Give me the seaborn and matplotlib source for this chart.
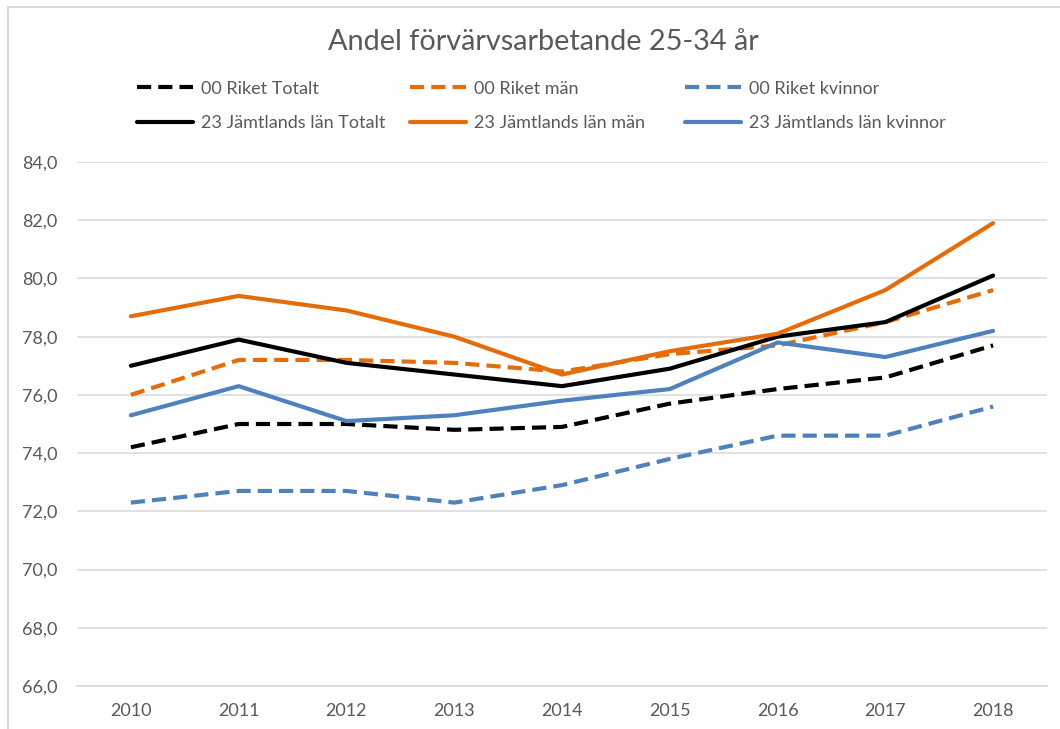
import matplotlib
matplotlib.use("Agg")
import matplotlib.pyplot as plt
import seaborn as sns
import pandas as pd
from matplotlib.lines import Line2D

years = [2010, 2011, 2012, 2013, 2014, 2015, 2016, 2017, 2018]
riket_totalt = [74.2, 75.0, 75.0, 74.8, 74.9, 75.7, 76.2, 76.6, 77.7]
riket_man = [76.0, 77.2, 77.2, 77.1, 76.8, 77.4, 77.7, 78.5, 79.6]
riket_kvinnor = [72.3, 72.7, 72.7, 72.3, 72.9, 73.8, 74.6, 74.6, 75.6]
jamt_totalt = [77.0, 77.9, 77.1, 76.7, 76.3, 76.9, 78.0, 78.5, 80.1]
jamt_man = [78.7, 79.4, 78.9, 78.0, 76.7, 77.5, 78.1, 79.6, 81.9]
jamt_kvinnor = [75.3, 76.3, 75.1, 75.3, 75.8, 76.2, 77.8, 77.3, 78.2]

labels = ["00 Riket Totalt", "00 Riket män", "00 Riket kvinnor",
          "23 Jämtlands län Totalt", "23 Jämtlands län män", "23 Jämtlands län kvinnor"]
values = [riket_totalt, riket_man, riket_kvinnor, jamt_totalt, jamt_man, jamt_kvinnor]
colors = ["#000000", "#E46C0A", "#4F81BD", "#000000", "#E46C0A", "#4F81BD"]
dashed = [True, True, True, False, False, False]
yticks = [66, 68, 70, 72, 74, 76, 78, 80, 82, 84]

sns.set_theme(style="white")
plt.rcParams["font.family"] = ["Lato", "DejaVu Sans"]

fig = plt.figure(figsize=(10.6, 7.29), dpi=100)
ax = fig.add_axes([77/1060, 1-686/729, (1047-77)/1060, (686-162)/729])

xpos = list(range(len(years)))
handles = {}
for lab, vals, col, d in zip(labels, values, colors, dashed):
    df = pd.DataFrame({"x": xpos, "y": vals})
    sns.lineplot(data=df, x="x", y="y", ax=ax, color=col, linewidth=3.0, label=lab)
    ln = ax.get_lines()[-1]
    if d:
        ln.set_dashes((3.4, 1.7))
    ln.set_solid_capstyle("round")
    ln.set_solid_joinstyle("round")
    handles[lab] = ln

if ax.get_legend():
    ax.get_legend().remove()

ax.set_xlim(-0.5, 8.5)
ax.set_ylim(66, 84)
ax.set_yticks(yticks)
ax.set_yticklabels([f"{v},0" for v in yticks])
ax.set_xticks(xpos)
ax.set_xticklabels([str(y) for y in years])
ax.set_xlabel("")
ax.set_ylabel("")
ax.grid(axis="y", color="#D9D9D9", linewidth=1.1)
ax.grid(axis="x", visible=False)
ax.set_axisbelow(True)
for s in ["top", "right", "left"]:
    ax.spines[s].set_visible(False)
ax.spines["bottom"].set_color("#D9D9D9")
ax.spines["bottom"].set_linewidth(1.1)
ax.tick_params(axis="both", length=0, labelsize=13, labelcolor="#595959")
ax.tick_params(axis="y", pad=14)
ax.tick_params(axis="x", pad=12)

fig.text(543/1060, 1-42/729, "Andel förvärvsarbetande 25-34 år", ha="center", va="center",
         fontsize=20.8, color="#595959")

# legends: 3 columns, 2 rows
col_x = [137, 410, 685]
for i, cx in enumerate(col_x):
    idx = [i, i + 3]
    hl = [Line2D([], [], color=colors[j], linewidth=3.0,
                 linestyle=(0, (3.4, 1.7)) if dashed[j] else "-") for j in idx]
    leg = fig.legend(hl, [labels[j] for j in idx], loc="upper left",
                     bbox_to_anchor=(cx/1060, 1-80.5/729), frameon=False,
                     fontsize=13, handlelength=3.1, handletextpad=0.45,
                     labelspacing=1.05, borderpad=0, borderaxespad=0)
    for t in leg.get_texts():
        t.set_color("#595959")

# chart border (top and left visible)
fig.add_artist(Line2D([8/1060, 1.0], [1-7/729, 1-7/729], color="#D9D9D9", linewidth=1.5,
                      transform=fig.transFigure))
fig.add_artist(Line2D([8/1060, 8/1060], [0, 1-7/729], color="#D9D9D9", linewidth=1.5,
                      transform=fig.transFigure))

fig.savefig("out.png", dpi=100, facecolor="white")
